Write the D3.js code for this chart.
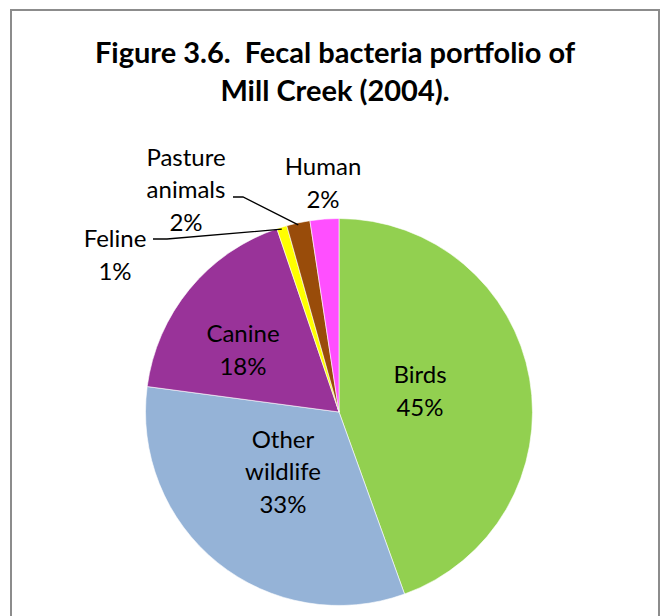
<!DOCTYPE html>
<html>
<head>
<meta charset="utf-8">
<script src="https://cdn.jsdelivr.net/npm/d3@7"></script>
<style>
  body { margin: 0; background: #fff; }
  svg { display: block; }
  text { font-family: Lato, "Open Sans", sans-serif; fill: #000; white-space: pre; }
</style>
</head>
<body>
<svg width="665" height="616"></svg>
<script>
// chart data
var titleLines = ["Figure 3.6.  Fecal bacteria portfolio of", "Mill Creek (2004)."];
var categories = ["Birds", "Other wildlife", "Canine", "Feline", "Pasture animals", "Human"];
var values = [44.5, 32.6, 17.7, 0.85, 1.95, 2.4];
var colors = ["#92d050", "#95b3d7", "#993399", "#ffff00", "#994c0a", "#ff4fff"];

// label layout: lines of each label, and where it sits
var labelLines = [["Birds"], ["Other", "wildlife"], ["Canine"], ["Feline"], ["Pasture", "animals"], ["Human"]];
var labelAt = [
  {x: 420, y: 391}, {x: 283, y: 472}, {x: 243, y: 350},
  {x: 115, y: 255}, {x: 186, y: 190}, {x: 323, y: 183}
];

var svg = d3.select("svg"),
    width = +svg.attr("width"),
    height = +svg.attr("height");

var cx = 339, cy = 412, radius = 193.5;

// frame
svg.append("rect")
    .attr("x", 11).attr("y", 10)
    .attr("width", 648).attr("height", 640)
    .attr("fill", "none")
    .attr("stroke", "#8c8c8c")
    .attr("stroke-width", 2);

// title
svg.selectAll(".title")
  .data(titleLines)
  .enter().append("text")
    .attr("class", "title")
    .attr("x", 335)
    .attr("y", function(d, i) { return 63 + i * 38; })
    .attr("text-anchor", "middle")
    .attr("font-size", 29)
    .attr("font-weight", "bold")
    .text(function(d) { return d; });

var data = categories.map(function(c, i) { return {name: c, value: values[i], color: colors[i], i: i}; });

var pie = d3.pie().sort(null).value(function(d) { return d.value; });
var arc = d3.arc().innerRadius(0).outerRadius(radius);

var g = svg.append("g").attr("transform", "translate(" + cx + "," + cy + ")");

var arcs = pie(data);

g.selectAll(".slice")
  .data(arcs)
  .enter().append("path")
    .attr("class", "slice")
    .attr("d", arc)
    .attr("fill", function(d) { return d.data.color; })
    .attr("stroke", "#fff")
    .attr("stroke-width", 0.6);

// leader lines for feline and pasture animals
var edge = d3.arc().innerRadius(radius).outerRadius(radius);
function leader(idx, sx, sy, kx) {
  var c = edge.centroid(arcs[idx]);
  svg.append("path")
      .attr("d", d3.line()([[sx, sy], [kx, sy], [cx + c[0], cy + c[1] + 2]]))
      .attr("fill", "none")
      .attr("stroke", "#000")
      .attr("stroke-width", 1.3);
}
leader(4, 233, 197, 243);
leader(3, 153, 239, 167);

// labels
var lineH = 32.5;
data.forEach(function(d, i) {
  var lines = labelLines[i].concat([Math.round(d.value) + "%"]);
  var top = labelAt[i].y - (lines.length - 1) * lineH / 2;
  var t = svg.append("text")
      .attr("text-anchor", "middle")
      .attr("font-size", 24);
  lines.forEach(function(l, j) {
    t.append("tspan")
        .attr("x", labelAt[i].x)
        .attr("y", top + j * lineH)
        .attr("dy", "0.35em")
        .text(l);
  });
});
</script>
</body>
</html>
